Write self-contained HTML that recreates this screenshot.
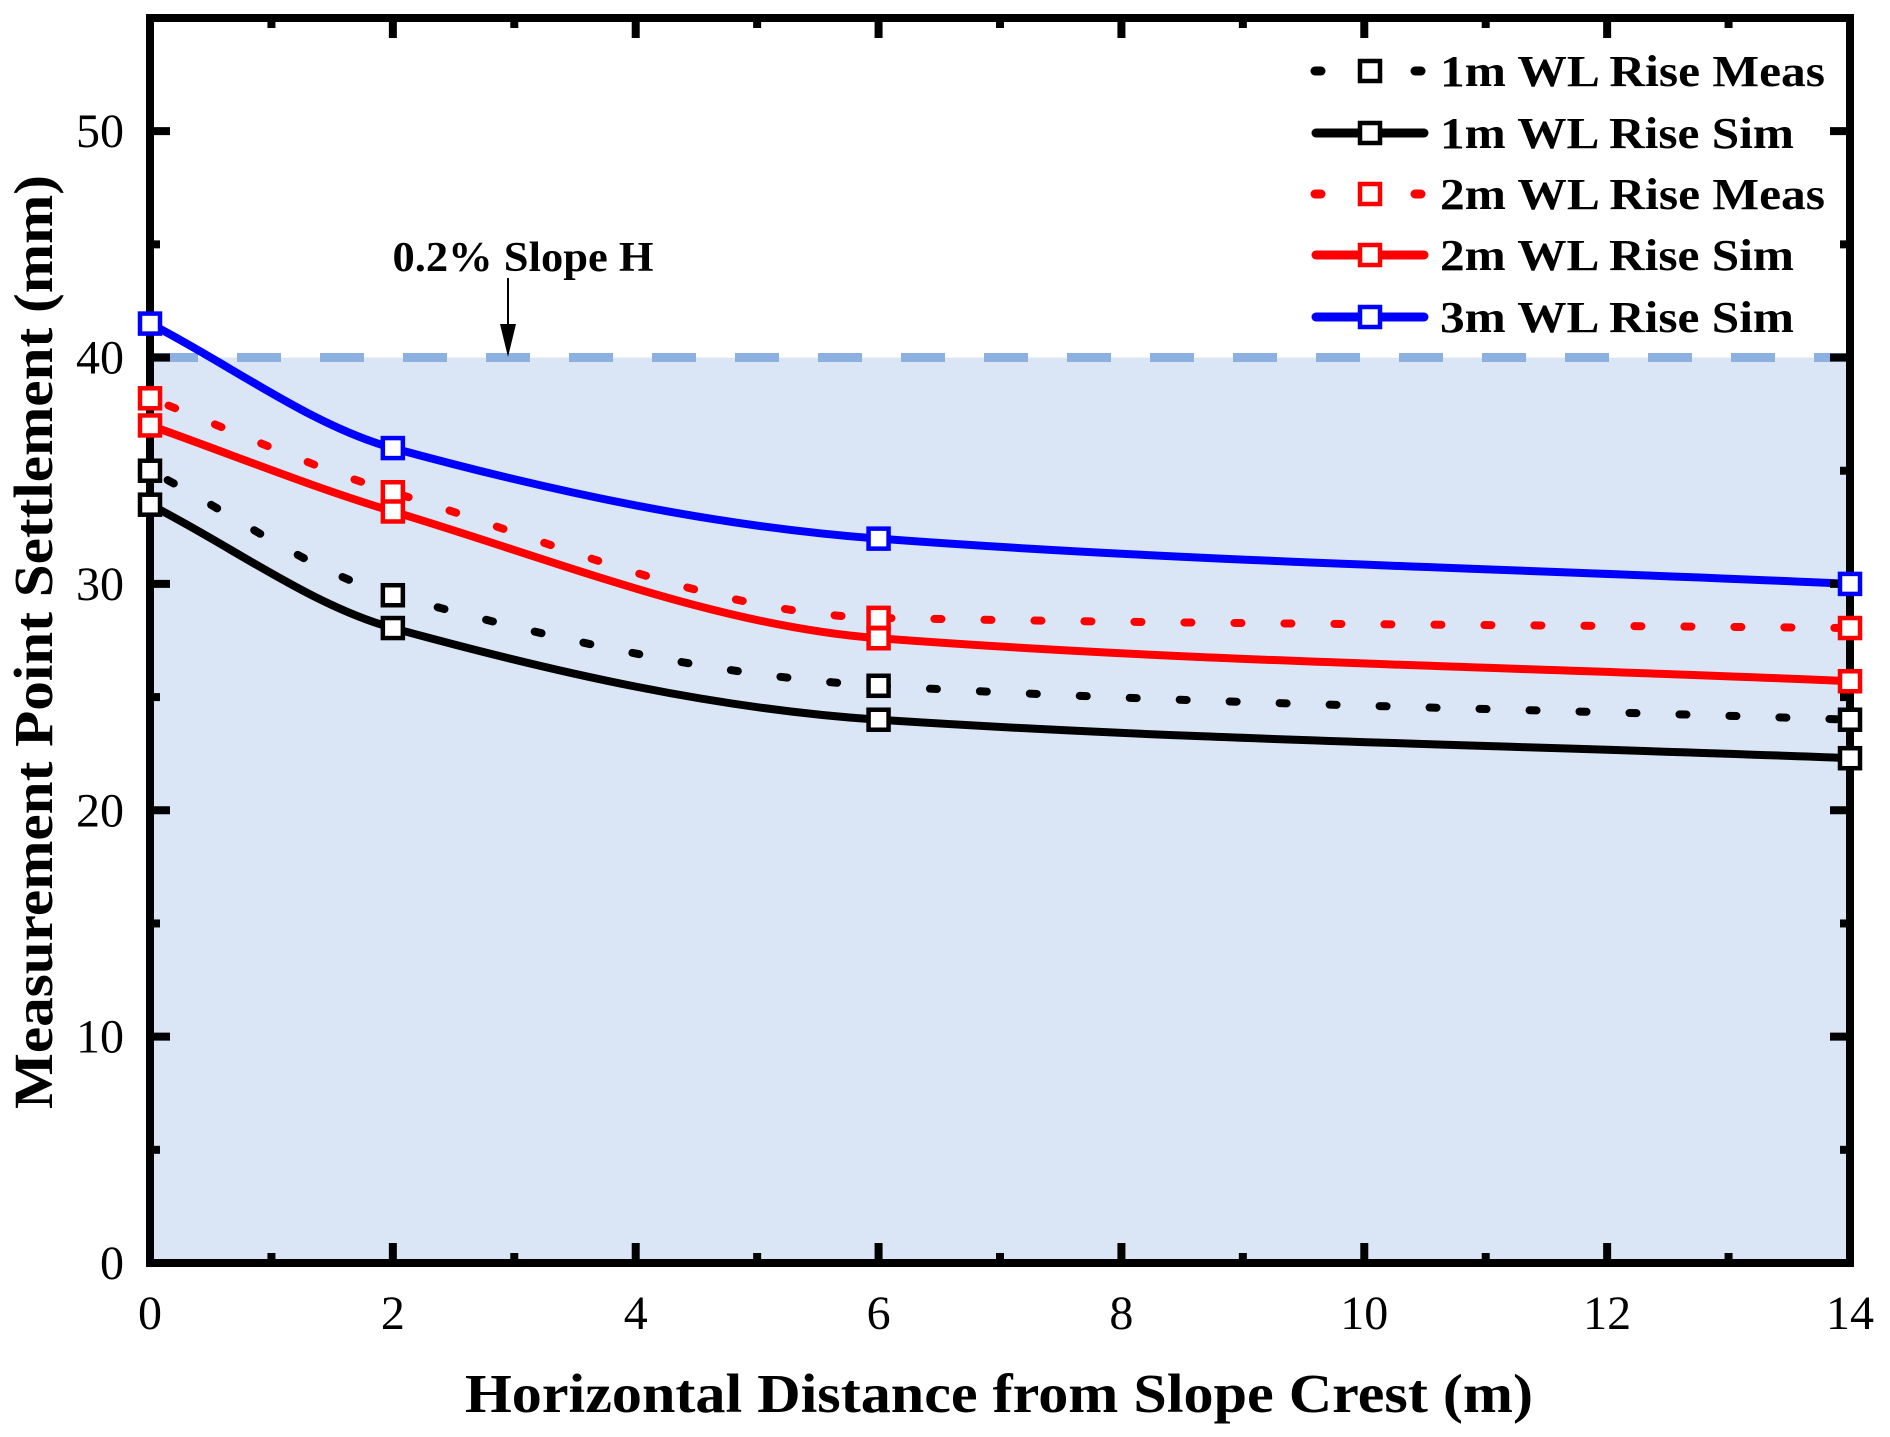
<!DOCTYPE html>
<html><head><meta charset="utf-8"><style>
html,body{margin:0;padding:0;background:#fff;}
svg{display:block;}
text{font-family:"Liberation Serif",serif;}
</style></head><body>
<svg id="chart" width="1890" height="1437" viewBox="0 0 1890 1437" xmlns="http://www.w3.org/2000/svg">
<defs><clipPath id="plotclip"><rect x="150" y="18" width="1700" height="1245"/></clipPath></defs>
<g id="bg"></g>
<g id="series" clip-path="url(#plotclip)"></g>
<g id="axes"></g>
<g id="markers"></g>
<g id="labels"></g>
<g id="legend"></g>
</svg>
<script>
const xCats = [0, 2, 6, 14];
const meas1 = [35.0, 29.5, 25.5, 24.0];
const sim1 = [33.5, 28.05, 24.0, 22.3];
const meas2 = [38.2, 34.05, 28.5, 28.05];
const sim2 = [37.0, 33.2, 27.6, 25.7];
const sim3 = [41.5, 36.0, 32.0, 30.0];
const xTicks = [0, 2, 4, 6, 8, 10, 12, 14];
const yTicks = [0, 10, 20, 30, 40, 50];
const limitValue = 40;
const legendLabels = ["1m WL Rise Meas", "1m WL Rise Sim", "2m WL Rise Meas", "2m WL Rise Sim", "3m WL Rise Sim"];

const NS = "http://www.w3.org/2000/svg";
const L = 150, R = 1850, T = 18, B = 1263;
const xMin = 0, xMax = 14, yMin = 0, yMax = 55;
function sx(v){ return L + (v - xMin) / (xMax - xMin) * (R - L); }
function sy(v){ return B - (v - yMin) / (yMax - yMin) * (B - T); }
function mk(tag, attrs, parent){
  const e = document.createElementNS(NS, tag);
  for (const k in attrs) e.setAttribute(k, attrs[k]);
  parent.appendChild(e);
  return e;
}
const bg = document.getElementById('bg');
const axes = document.getElementById('axes');
const ser = document.getElementById('series');
const mkG = document.getElementById('markers');
const lab = document.getElementById('labels');
const leg = document.getElementById('legend');

// background fill below limit
let f = mk('rect', {x: L, y: sy(limitValue), width: R - L, height: B - sy(limitValue), fill: '#dae6f5'}, bg);


let dl = mk('line', {x1: L + 4, x2: R, y1: sy(limitValue), y2: sy(limitValue), stroke: '#8cb0df', 'stroke-width': 9, 'stroke-dasharray': '44 39'}, bg);



// monotone cubic path
function pathFor(ys){
  const px = xCats.map(sx), py = ys.map(sy), n = px.length;
  const d = [], m = [];
  for (let i = 0; i < n - 1; i++) d.push((py[i+1]-py[i])/(px[i+1]-px[i]));
  m[0] = d[0]; m[n-1] = d[n-2];
  for (let i = 1; i < n - 1; i++) m[i] = (d[i-1]*d[i] <= 0) ? 0 : 2/(1/d[i-1] + 1/d[i]);
  let s = 'M' + px[0] + ',' + py[0];
  for (let i = 0; i < n - 1; i++){
    const h = (px[i+1]-px[i])/3;
    s += ' C' + (px[i]+h) + ',' + (py[i]+m[i]*h) + ' ' + (px[i+1]-h) + ',' + (py[i+1]-m[i+1]*h) + ' ' + px[i+1] + ',' + py[i+1];
  }
  return s;
}
const seriesDefs = [
  {ys: meas1, color: '#000', dotted: true, name: '1m-meas'},
  {ys: sim1, color: '#000', dotted: false, name: '1m-sim'},
  {ys: meas2, color: '#ff0000', dotted: true, name: '2m-meas'},
  {ys: sim2, color: '#ff0000', dotted: false, name: '2m-sim'},
  {ys: sim3, color: '#0000ff', dotted: false, name: '3m-sim'}
];
seriesDefs.forEach(sd => {
  const attrs = {d: pathFor(sd.ys), fill: 'none', stroke: sd.color, 'stroke-width': 8};
  if (sd.dotted){ attrs['stroke-dasharray'] = '7 43'; attrs['stroke-linecap'] = 'round'; attrs['stroke-dashoffset'] = '-20'; }
  const p = mk('path', attrs, ser);
  
  
});

// axes frame
const fr = mk('rect', {x: L, y: T, width: R - L, height: B - T, fill: 'none', stroke: '#000', 'stroke-width': 8}, axes);


for (let v = 0; v <= 14; v++){
  const major = v % 2 === 0, len = major ? 20 : 10, x = sx(v);
  mk('line', {x1: x, x2: x, y1: B, y2: B - len, stroke: '#000', 'stroke-width': 8}, axes);
  mk('line', {x1: x, x2: x, y1: T, y2: T + len, stroke: '#000', 'stroke-width': 8}, axes);
}
for (let v = 0; v <= 55; v += 5){
  const major = v % 10 === 0, len = major ? 20 : 10, y = sy(v);
  mk('line', {x1: L, x2: L + len, y1: y, y2: y, stroke: '#000', 'stroke-width': 8}, axes);
  mk('line', {x1: R, x2: R - len, y1: y, y2: y, stroke: '#000', 'stroke-width': 8}, axes);
}
xTicks.forEach(v => {
  const t = mk('text', {x: sx(v), y: 1329, 'font-size': 48, 'text-anchor': 'middle'}, lab);
  t.textContent = v;
  
  
});
yTicks.forEach(v => {
  const t = mk('text', {x: 124, y: sy(v) + 16, 'font-size': 48, 'text-anchor': 'end'}, lab);
  t.textContent = v;
  
  
});

// markers
seriesDefs.forEach(sd => {
  sd.ys.forEach((v, i) => {
    const r = mk('rect', {x: sx(xCats[i]) - 10, y: sy(v) - 10, width: 20, height: 20, fill: '#fff', stroke: sd.color, 'stroke-width': 4.5}, mkG);
    
    
  });
});

// annotation
const an = mk('text', {x: 523, y: 271, 'font-size': 42, 'font-weight': 'bold', 'text-anchor': 'middle', textLength: 261, lengthAdjust: 'spacingAndGlyphs'}, lab);
an.textContent = '0.2% Slope H';


const ar = mk('line', {x1: 508, x2: 508, y1: 278, y2: 330, stroke: '#000', 'stroke-width': 2}, lab);


mk('polygon', {points: '500,324 516,324 508,357', fill: '#000'}, lab);

// axis titles
const xt = mk('text', {x: 999, y: 1412, 'font-size': 55, 'font-weight': 'bold', 'text-anchor': 'middle', textLength: 1068, lengthAdjust: 'spacingAndGlyphs'}, lab);
xt.textContent = 'Horizontal Distance from Slope Crest (m)';


const yt = mk('text', {x: 0, y: 0, 'font-size': 55, 'font-weight': 'bold', 'text-anchor': 'middle', textLength: 934, lengthAdjust: 'spacingAndGlyphs', transform: 'translate(52,642) rotate(-90)'}, lab);
yt.textContent = 'Measurement Point Settlement (mm)';



// legend
const legY = [71, 133, 194, 255, 317];
const legW = [385, 354, 385, 354, 354];
seriesDefs.forEach((sd, i) => {
  const g = mk('g', {}, leg);
  
  
  const y = legY[i];
  if (sd.dotted){
    mk('line', {x1: 1315, x2: 1321, y1: y, y2: y, stroke: sd.color, 'stroke-width': 9, 'stroke-linecap': 'round'}, g);
    mk('line', {x1: 1415, x2: 1421, y1: y, y2: y, stroke: sd.color, 'stroke-width': 9, 'stroke-linecap': 'round'}, g);
  } else {
    mk('line', {x1: 1316, x2: 1424, y1: y, y2: y, stroke: sd.color, 'stroke-width': 9, 'stroke-linecap': 'round'}, g);
  }
  mk('rect', {x: 1360, y: y - 10, width: 20, height: 20, fill: '#fff', stroke: sd.color, 'stroke-width': 4.5}, g);
  const t = mk('text', {x: 1440, y: y + 15, 'font-size': 44, 'font-weight': 'bold', textLength: legW[i], lengthAdjust: 'spacingAndGlyphs'}, g);
  t.textContent = legendLabels[i];
});
</script>
</body></html>
